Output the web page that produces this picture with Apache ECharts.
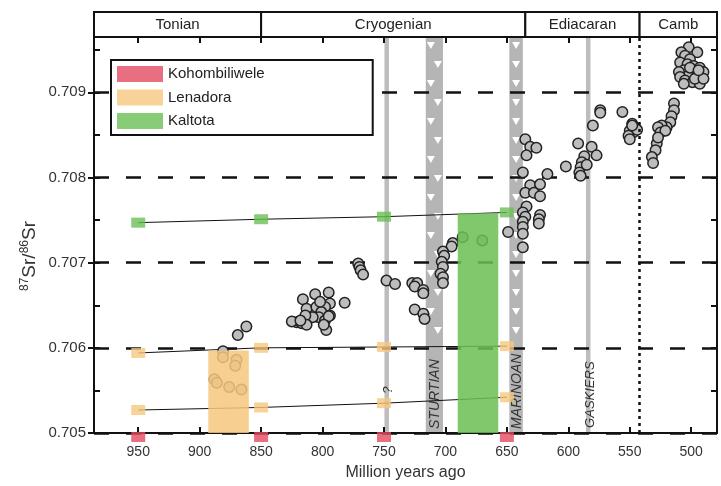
<!DOCTYPE html>
<html>
<head>
<meta charset="utf-8">
<script src="https://cdn.jsdelivr.net/npm/echarts@6/dist/echarts.min.js"></script>
<style>
  html, body { margin: 0; padding: 0; background: #fff; }
  #chart { width: 721px; height: 486px; }
</style>
</head>
<body>
<div id="chart"></div>
<script>
// gray carbonate 87Sr/86Sr points: age (Ma) and ratio
var srAge = [881, 881, 870, 871, 888, 886, 876, 866, 869, 862,
  816, 806, 795, 794, 782, 813, 805, 798, 801, 803, 794, 808, 814, 821, 817, 813, 798, 797, 825, 802, 795, 799, 818,
  771, 770, 769, 767, 748, 741,
  727, 723, 725, 718, 718, 725, 718, 717,
  694, 695, 702, 701, 703, 702, 704, 702, 702,
  686, 670,
  635, 631, 626, 634, 637, 617, 631, 623, 635, 628, 623, 634, 637, 635, 637, 623, 624, 624, 637, 637, 649, 637,
  602, 592, 581, 577, 587, 589, 590, 591, 590, 585,
  574, 574, 556, 580,
  548, 546, 550, 547, 551, 544, 550, 548,
  514, 514, 516, 517, 520, 524, 527, 525, 521, 528, 529, 532, 531, 527,
  502, 495, 508, 505, 501, 509, 503, 498, 493, 506, 510, 499, 490, 502, 495, 509, 505, 499, 493, 497, 490, 506, 501, 494];
var srRatio = [0.70596, 0.70589, 0.70586, 0.70579, 0.70563, 0.70559, 0.70554, 0.70551, 0.70615, 0.70625,
  0.70657, 0.70663, 0.70665, 0.70652, 0.70653, 0.70646, 0.70648, 0.70648, 0.70642, 0.70636, 0.70638, 0.70636, 0.70638, 0.70630, 0.70629, 0.70627, 0.70632, 0.70621, 0.70631, 0.70654, 0.70637, 0.70627, 0.70632,
  0.70699, 0.70695, 0.70691, 0.70686, 0.70679, 0.70675,
  0.70676, 0.70676, 0.70672, 0.70668, 0.70664, 0.70645, 0.70640, 0.70634,
  0.70723, 0.70719, 0.70713, 0.70708, 0.70701, 0.70695, 0.70687, 0.70683, 0.70676,
  0.70730, 0.70726,
  0.70845, 0.70836, 0.70835, 0.70826, 0.70806, 0.70804, 0.70791, 0.70792, 0.70782, 0.70782, 0.70778, 0.70766, 0.70759, 0.70754, 0.70748, 0.70756, 0.70751, 0.70746, 0.70742, 0.70734, 0.70736, 0.70718,
  0.70813, 0.70840, 0.70836, 0.70826, 0.70825, 0.70818, 0.70812, 0.70806, 0.70802, 0.70815,
  0.70879, 0.70876, 0.70877, 0.70861,
  0.70863, 0.70859, 0.70855, 0.70853, 0.70849, 0.70856, 0.70845, 0.70861,
  0.70887, 0.70879, 0.70872, 0.70865, 0.70859, 0.70861, 0.70859, 0.70853, 0.70855, 0.70840, 0.70832, 0.70824, 0.70817, 0.70847,
  0.70953, 0.70947, 0.70947, 0.70943, 0.70939, 0.70935, 0.70933, 0.70931, 0.70929, 0.70926, 0.70924, 0.70926, 0.70924, 0.70920, 0.70920, 0.70918, 0.70914, 0.70912, 0.70910, 0.70916, 0.70916, 0.70910, 0.70929, 0.70926];

// sample sets (squares) at 950 / 850 / 750 / 650 Ma
var sampleAge = [950, 850, 750, 650];
var kohRatio = [0.705, 0.705, 0.705, 0.705];
var lenHigh = [0.70594, 0.70600, 0.70601, 0.70602];
var lenLow = [0.70527, 0.70530, 0.70535, 0.70542];
var kalRatio = [0.70747, 0.70751, 0.70754, 0.70759];

// age windows (boxes)
var boxName = ['Lenadora', 'Kaltota'];
var boxOld = [893, 690];
var boxYoung = [860, 657];
var boxTop = [0.70597, 0.70758];

// glaciations
var iceName = ['STURTIAN', 'MARINOAN'];
var iceOld = [716, 648];
var iceYoung = [702, 637];
var eventAge = [748, 584];
var eventLabel = ['?', 'GASKIERS'];
var eventLabelAt = [0.70546, 0.70506];

// periods
var periodName = ['Tonian', 'Cryogenian', 'Ediacaran', 'Camb'];
var periodOld = [986, 850, 635, 542];
var periodYoung = [850, 635, 542, 479];

var cambBoundary = 542;
var yTicks = [0.705, 0.706, 0.707, 0.708, 0.709];

var FONT = 'Liberation Sans, Arial, sans-serif';
var RED = '#e14b60', ORANGE = '#f6c87f', GREEN = '#6cbf55';
var boxColor = ['rgba(246,200,127,0.86)', 'rgba(108,191,85,0.86)'];

function zip(a, b) {
  return a.map(function (v, i) { return [v, b[i]]; });
}

function renderIce(params, api) {
  var cs = params.coordSys;
  var x0 = api.coord([api.value(0), 0.705])[0];
  var x1 = api.coord([api.value(1), 0.705])[0];
  var left = Math.min(x0, x1), w = Math.abs(x1 - x0), cx = left + w / 2;
  var bottom = cs.y + cs.height;
  var kids = [{ type: 'rect', shape: { x: left, y: cs.y, width: w, height: cs.height }, style: { fill: '#b5b5b5' } }];
  var i = 0;
  for (var yy = cs.y + 5; yy < bottom - 100; yy += 19) {
    var tx = w > 15 ? cx + (i % 2 ? 3.5 : -3.5) : cx;
    kids.push({ type: 'polygon', shape: { points: [[tx - 4, yy], [tx + 4, yy], [tx, yy + 7]] }, style: { fill: '#fff' } });
    i++;
  }
  kids.push({ type: 'text', x: cx + 1, y: bottom - 4, rotation: Math.PI / 2,
    style: { text: iceName[params.dataIndex], align: 'left', verticalAlign: 'middle', fill: '#333', font: 'italic 14px ' + FONT } });
  return { type: 'group', children: kids };
}

function renderEvent(params, api) {
  var cs = params.coordSys;
  var p = api.coord([api.value(0), api.value(1)]);
  return { type: 'group', children: [
    { type: 'rect', shape: { x: p[0] - 2, y: cs.y, width: 4.5, height: cs.height }, style: { fill: '#bdbdbd' } },
    { type: 'text', x: p[0] + 2, y: p[1], rotation: Math.PI / 2,
      style: { text: eventLabel[params.dataIndex], align: 'left', verticalAlign: 'middle', fill: '#333', font: 'italic 13px ' + FONT } }
  ] };
}

function renderPeriod(params, api) {
  var cs = params.coordSys;
  var x0 = api.coord([api.value(0), 0.705])[0];
  var x1 = api.coord([api.value(1), 0.705])[0];
  return { type: 'group', children: [
    { type: 'rect', shape: { x: Math.min(x0, x1), y: cs.y - 25, width: Math.abs(x1 - x0), height: 25 },
      style: { fill: '#fff', stroke: '#111', lineWidth: 2 } },
    { type: 'text', x: (x0 + x1) / 2, y: cs.y - 12, style: { text: periodName[params.dataIndex], align: 'center',
      verticalAlign: 'middle', fill: '#222', font: '15px ' + FONT } }
  ] };
}

function renderBox(params, api) {
  var a = api.coord([api.value(0), api.value(2)]);
  var b = api.coord([api.value(1), 0.705]);
  return { type: 'rect', shape: { x: Math.min(a[0], b[0]), y: a[1], width: Math.abs(b[0] - a[0]), height: b[1] - a[1] },
    style: { fill: boxColor[params.dataIndex] } };
}

var chart = echarts.init(document.getElementById('chart'));

var xBase = {
  type: 'value', min: 479, max: 986, inverse: true, splitNumber: 10, z: 1,
  axisLine: { lineStyle: { color: '#111', width: 2 } },
  axisTick: { inside: true, length: 6, lineStyle: { color: '#111', width: 2 } },
  splitLine: { show: false }
};

chart.setOption({
  animation: false,
  textStyle: { fontFamily: FONT },
  grid: { left: 94, right: 4, top: 37, bottom: 53 },
  legend: {
    orient: 'vertical', left: 111, top: 60, z: 10,
    itemWidth: 46, itemHeight: 16, itemGap: 7.5,
    padding: [6, 108, 6, 6],
    backgroundColor: '#fff', borderColor: '#111', borderWidth: 2,
    textStyle: { fontSize: 15, color: '#222' },
    data: [{ name: 'Kohombiliwele', icon: 'rect' }, { name: 'Lenadora', icon: 'rect' }, { name: 'Kaltota', icon: 'rect' }]
  },
  xAxis: [
    Object.assign({}, xBase, {
      position: 'bottom',
      axisLabel: { fontSize: 14, color: '#333', margin: 12,
        formatter: function (v) { return v % 50 === 0 ? String(v) : ''; } },
      name: 'Million years ago', nameLocation: 'middle', nameGap: 32,
      nameTextStyle: { fontSize: 16, color: '#333' }
    }),
    Object.assign({}, xBase, { position: 'top', axisLabel: { show: false } })
  ],
  yAxis: [
    {
      type: 'value', min: 0.705, max: 0.70965, interval: 0.001, position: 'left', z: 1,
      axisLine: { lineStyle: { color: '#111', width: 2 } },
      axisTick: { length: 6, customValues: yTicks, lineStyle: { color: '#111', width: 2 } },
      axisLabel: { fontSize: 15, color: '#333', margin: 8, customValues: yTicks,
        formatter: function (v) { return v.toFixed(3); } },
      splitLine: { show: true, lineStyle: { color: '#111', width: 2.5, type: [15, 17] } },
      name: '{sup|87}Sr/{sup|86}Sr', nameLocation: 'middle', nameGap: 53, nameRotate: 90,
      nameMoveOverlap: false,
      nameTextStyle: { fontSize: 19, color: '#333', lineHeight: 22, padding: [0, 42, 0, 0],
        rich: { sup: { fontSize: 12, lineHeight: 11, verticalAlign: 'top', color: '#333' } } }
    },
    {
      type: 'value', min: 0.705, max: 0.70965, interval: 0.0005, position: 'left', z: 1,
      axisLine: { show: false },
      axisTick: { inside: true, length: 6, lineStyle: { color: '#111', width: 2 } },
      axisLabel: { show: false }, splitLine: { show: false }
    },
    {
      type: 'value', min: 0.705, max: 0.70965, interval: 0.0005, position: 'right', z: 1,
      axisLine: { lineStyle: { color: '#111', width: 2 } },
      axisTick: { inside: true, length: 6, lineStyle: { color: '#111', width: 2 } },
      axisLabel: { show: false }, splitLine: { show: false }
    }
  ],
  series: [
    {
      name: 'ice', type: 'custom', z: 0, silent: true, renderItem: renderIce,
      data: zip(iceOld, iceYoung)
    },
    {
      name: 'events', type: 'custom', z: 0, silent: true, renderItem: renderEvent,
      data: zip(eventAge, eventLabelAt)
    },
    {
      name: 'periods', type: 'custom', z: 5, silent: true, clip: false, renderItem: renderPeriod,
      data: zip(periodOld, periodYoung)
    },
    {
      name: 'Sr', type: 'scatter', z: 3, symbolSize: 10.5,
      itemStyle: { color: '#bdbdbd', borderColor: '#222', borderWidth: 1.5, opacity: 1 },
      data: zip(srAge, srRatio),
      markLine: {
        silent: true, symbol: 'none', label: { show: false },
        lineStyle: { color: '#111', width: 2.5, type: [3, 4] },
        data: [{ xAxis: cambBoundary }]
      }
    },
    { name: 'lenHighLine', type: 'line', z: 3, symbol: 'none', silent: true,
      lineStyle: { color: '#111', width: 1 }, data: zip(sampleAge, lenHigh) },
    { name: 'lenLowLine', type: 'line', z: 3, symbol: 'none', silent: true,
      lineStyle: { color: '#111', width: 1 }, data: zip(sampleAge, lenLow) },
    { name: 'kalLine', type: 'line', z: 3, symbol: 'none', silent: true,
      lineStyle: { color: '#111', width: 1 }, data: zip(sampleAge, kalRatio) },
    {
      name: 'boxes', type: 'custom', z: 4, silent: true, renderItem: renderBox,
      data: boxOld.map(function (v, i) { return [v, boxYoung[i], boxTop[i]]; })
    },
    { name: 'Kohombiliwele', type: 'scatter', z: 6, clip: false, symbol: 'rect', symbolSize: [14, 10],
      symbolOffset: [0, 4], itemStyle: { color: RED }, data: zip(sampleAge, kohRatio) },
    { name: 'Lenadora', type: 'scatter', z: 6, symbol: 'rect', symbolSize: [14, 10],
      itemStyle: { color: ORANGE }, data: zip(sampleAge, lenHigh).concat(zip(sampleAge, lenLow)) },
    { name: 'Kaltota', type: 'scatter', z: 6, symbol: 'rect', symbolSize: [14, 10],
      itemStyle: { color: GREEN }, data: zip(sampleAge, kalRatio) }
  ]
});
</script>
</body>
</html>
